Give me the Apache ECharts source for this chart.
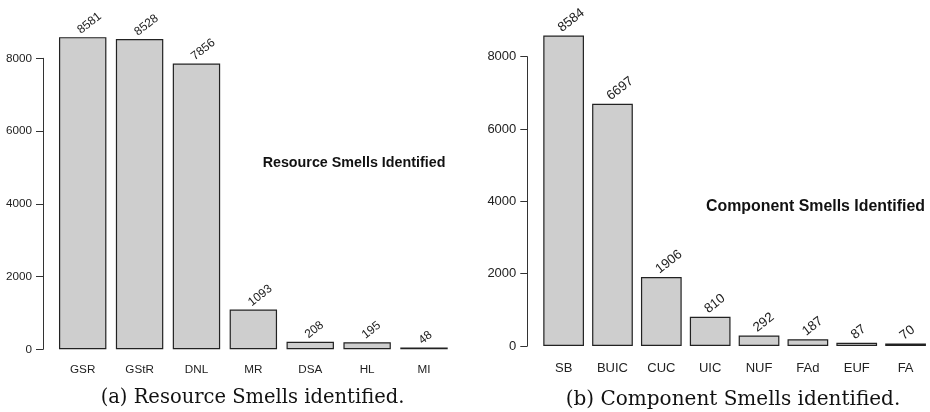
<!DOCTYPE html>
<html>
<head>
<meta charset="utf-8">
<script src="https://cdn.jsdelivr.net/npm/echarts@6/dist/echarts.min.js"></script>
<style>
html,body{margin:0;padding:0;background:#fff;}
#chart{width:930px;height:412px;}
</style>
</head>
<body>
<div id="chart"></div>
<script>
const resourceCats = ['GSR', 'GStR', 'DNL', 'MR', 'DSA', 'HL', 'MI'];
const resourceVals = [8581, 8528, 7856, 1093, 208, 195, 48];
const componentCats = ['SB', 'BUIC', 'CUC', 'UIC', 'NUF', 'FAd', 'EUF', 'FA'];
const componentVals = [8584, 6697, 1906, 810, 292, 187, 87, 70];
const yMin = 0, yMax = 8000, yStep = 2000;
const titleA = 'Resource Smells Identified';
const titleB = 'Component Smells Identified';
const captionA = '(a) Resource Smells identified.';
const captionB = '(b) Component Smells identified.';

const SANS = 'Liberation Sans, Arial, Helvetica, sans-serif';
const SERIF = 'DejaVu Serif, serif';

function yAxis(gridIndex, offset, fs) {
  return {
    type: 'value', gridIndex, min: yMin, max: yMax, interval: yStep, offset,
    axisLine: {show: true, lineStyle: {color: '#333', width: 1}},
    axisTick: {show: true, length: 7, lineStyle: {color: '#333', width: 1}},
    axisLabel: {color: '#222', fontFamily: SANS, fontSize: fs, margin: 11, formatter: v => String(v)},
    splitLine: {show: false}
  };
}
function xAxis(gridIndex, data, fs, margin) {
  return {
    type: 'category', gridIndex, data,
    axisLine: {show: false}, axisTick: {show: false},
    axisLabel: {color: '#222', fontFamily: SANS, fontSize: fs, margin, interval: 0}
  };
}
function barSeries(idx, data, fs) {
  return {
    type: 'bar', xAxisIndex: idx, yAxisIndex: idx, data,
    barCategoryGap: '16.67%', clip: false,
    itemStyle: {color: '#cecece', borderColor: '#222', borderWidth: 1.2},
    label: {
      show: true, position: 'top', distance: 1, rotate: 38,
      align: 'left', verticalAlign: 'bottom', offset: [0, 0],
      color: '#222', fontFamily: SANS, fontSize: fs
    },
    animation: false
  };
}

const chart = echarts.init(document.getElementById('chart'), null, {renderer: 'canvas'});
chart.setOption({
  backgroundColor: '#fff',
  animation: false,
  grid: [
    {left: 54.25, top: 58.3, width: 398.2, height: 291},
    {left: 539.2, top: 56.7, width: 393.2, height: 289.3}
  ],
  xAxis: [xAxis(0, resourceCats, 11.7, 14), xAxis(1, componentCats, 13, 16)],
  yAxis: [yAxis(0, 11.25, 11.7), yAxis(1, 11.9, 13)],
  series: [barSeries(0, resourceVals, 12), barSeries(1, componentVals, 13.3)],
  graphic: [
    {type: 'text', x: 354, y: 163, style: {text: titleA, font: 'bold 14.3px ' + SANS, fill: '#111', align: 'center', verticalAlign: 'middle'}},
    {type: 'text', x: 815.5, y: 206.7, style: {text: titleB, font: 'bold 15.9px ' + SANS, fill: '#111', align: 'center', verticalAlign: 'middle'}},
    {type: 'text', x: 252.5, y: 398, style: {text: captionA, font: '19.5px ' + SERIF, fill: '#111', align: 'center', verticalAlign: 'middle'}},
    {type: 'text', x: 733, y: 400, style: {text: captionB, font: '20px ' + SERIF, fill: '#111', align: 'center', verticalAlign: 'middle'}}
  ]
});
</script>
</body>
</html>
